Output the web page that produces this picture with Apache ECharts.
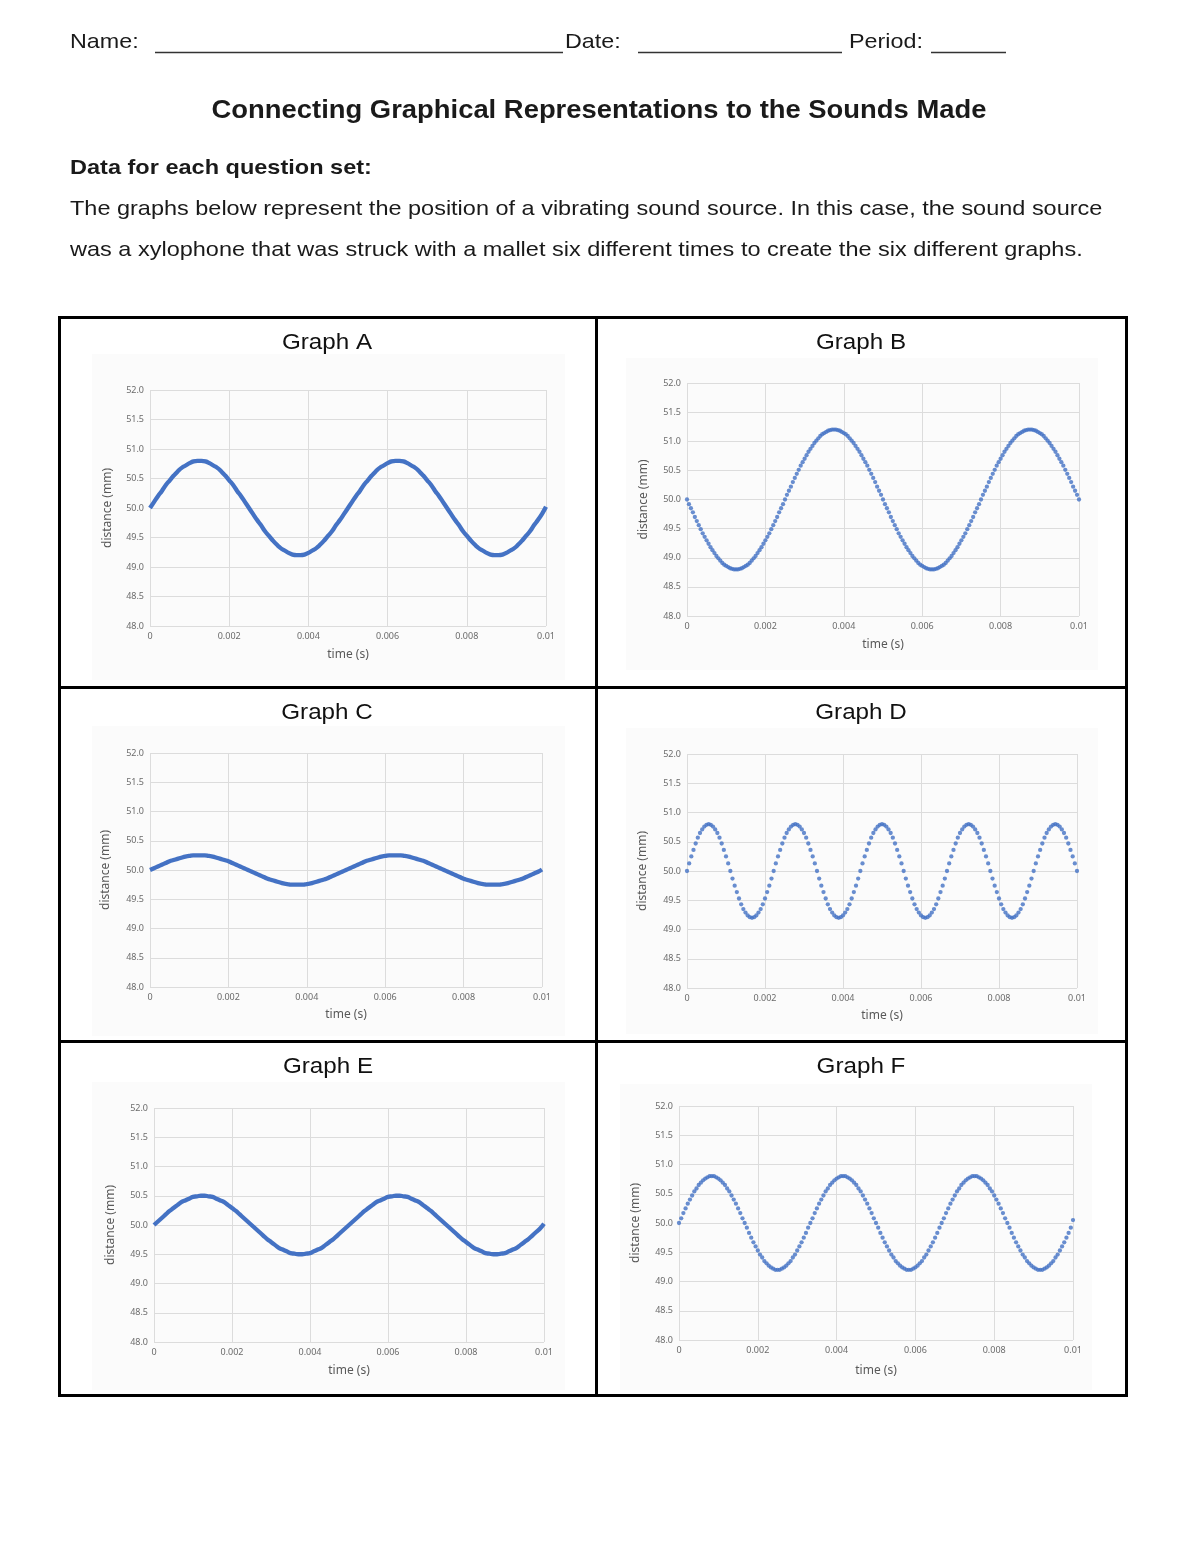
<!DOCTYPE html>
<html><head><meta charset="utf-8">
<script src="https://cdn.jsdelivr.net/npm/echarts@6/dist/echarts.min.js"></script>
<style>html,body{margin:0;padding:0;background:#fff;}#page{width:1200px;height:1553px;}</style>
</head><body><div id="page"></div>
<script>
// ---------- data ----------
const xTickLabels = ['0', '0.002', '0.004', '0.006', '0.008', '0.01'];
const yTickLabels = ['48.0', '48.5', '49.0', '49.5', '50.0', '50.5', '51.0', '51.5', '52.0'];
const graphNames = ['Graph A', 'Graph B', 'Graph C', 'Graph D', 'Graph E', 'Graph F'];

// sampling interval (s) of each recording
const stepA = 0.0001, stepB = 0.00005, stepC = 0.0001, stepD = 1 / 18000, stepE = 0.0001, stepF = 1 / 18000;

// distance (mm) of each recording, one value per sample
const distanceA = [
50.00,50.10,50.20,50.29,50.39,50.47,50.55,50.62,50.68,50.72,50.76,50.79,50.80,50.80,50.79,50.76,50.72,50.68,50.62,50.55,50.47,50.39,50.29,50.20,50.10,
50.00,49.90,49.80,49.71,49.61,49.53,49.45,49.38,49.32,49.28,49.24,49.21,49.20,49.20,49.21,49.24,49.28,49.32,49.38,49.45,49.53,49.61,49.71,49.80,49.90,
50.00,50.10,50.20,50.29,50.39,50.47,50.55,50.62,50.68,50.72,50.76,50.79,50.80,50.80,50.79,50.76,50.72,50.68,50.62,50.55,50.47,50.39,50.29,50.20,50.10,
50.00,49.90,49.80,49.71,49.61,49.53,49.45,49.38,49.32,49.28,49.24,49.21,49.20,49.20,49.21,49.24,49.28,49.32,49.38,49.45,49.53,49.61,49.71,49.80,49.90,
50.02];

const distanceB = [
50.00,49.92,49.85,49.78,49.70,49.63,49.56,49.49,49.42,49.36,49.30,49.24,49.18,49.13,49.08,49.03,48.99,48.95,48.91,48.88,48.86,48.84,48.82,48.81,48.80,48.80,
48.80,48.81,48.82,48.84,48.86,48.88,48.91,48.95,48.99,49.03,49.08,49.13,49.18,49.24,49.30,49.36,49.42,49.49,49.56,49.63,49.70,49.78,49.85,49.92,
50.00,
50.08,50.15,50.22,50.30,50.37,50.44,50.51,50.58,50.64,50.70,50.76,50.82,50.87,50.92,50.97,51.01,51.05,51.09,51.12,51.14,51.16,51.18,51.19,51.20,51.20,
51.20,51.19,51.18,51.16,51.14,51.12,51.09,51.05,51.01,50.97,50.92,50.87,50.82,50.76,50.70,50.64,50.58,50.51,50.44,50.37,50.30,50.22,50.15,50.08,
50.00,49.92,49.85,49.78,49.70,49.63,49.56,49.49,49.42,49.36,49.30,49.24,49.18,49.13,49.08,49.03,48.99,48.95,48.91,48.88,48.86,48.84,48.82,48.81,48.80,48.80,
48.80,48.81,48.82,48.84,48.86,48.88,48.91,48.95,48.99,49.03,49.08,49.13,49.18,49.24,49.30,49.36,49.42,49.49,49.56,49.63,49.70,49.78,49.85,49.92,
50.00,
50.08,50.15,50.22,50.30,50.37,50.44,50.51,50.58,50.64,50.70,50.76,50.82,50.87,50.92,50.97,51.01,51.05,51.09,51.12,51.14,51.16,51.18,51.19,51.20,51.20,
51.20,51.19,51.18,51.16,51.14,51.12,51.09,51.05,51.01,50.97,50.92,50.87,50.82,50.76,50.70,50.64,50.58,50.51,50.44,50.37,50.30,50.22,50.15,50.08,
50.00];

const distanceC = [
50.00,50.03,50.06,50.09,50.12,50.15,50.17,50.19,50.21,50.23,50.24,50.25,50.25,50.25,50.25,50.24,50.23,50.21,50.19,50.17,50.15,50.12,50.09,50.06,50.03,
50.00,49.97,49.94,49.91,49.88,49.85,49.83,49.81,49.79,49.77,49.76,49.75,49.75,49.75,49.75,49.76,49.77,49.79,49.81,49.83,49.85,49.88,49.91,49.94,49.97,
50.00,50.03,50.06,50.09,50.12,50.15,50.17,50.19,50.21,50.23,50.24,50.25,50.25,50.25,50.25,50.24,50.23,50.21,50.19,50.17,50.15,50.12,50.09,50.06,50.03,
50.00,49.97,49.94,49.91,49.88,49.85,49.83,49.81,49.79,49.77,49.76,49.75,49.75,49.75,49.75,49.76,49.77,49.79,49.81,49.83,49.85,49.88,49.91,49.94,49.97,
50.01];

const distanceD = [
50.00,50.13,50.25,50.36,50.47,50.57,50.65,50.71,50.76,50.79,50.80,50.79,50.76,50.71,50.65,50.57,50.47,50.36,50.25,50.13,
50.00,49.87,49.75,49.64,49.53,49.43,49.35,49.29,49.24,49.21,49.20,49.21,49.24,49.29,49.35,49.43,49.53,49.64,49.75,49.87,
50.00,50.13,50.25,50.36,50.47,50.57,50.65,50.71,50.76,50.79,50.80,50.79,50.76,50.71,50.65,50.57,50.47,50.36,50.25,50.13,
50.00,49.87,49.75,49.64,49.53,49.43,49.35,49.29,49.24,49.21,49.20,49.21,49.24,49.29,49.35,49.43,49.53,49.64,49.75,49.87,
50.00,50.13,50.25,50.36,50.47,50.57,50.65,50.71,50.76,50.79,50.80,50.79,50.76,50.71,50.65,50.57,50.47,50.36,50.25,50.13,
50.00,49.87,49.75,49.64,49.53,49.43,49.35,49.29,49.24,49.21,49.20,49.21,49.24,49.29,49.35,49.43,49.53,49.64,49.75,49.87,
50.00,50.13,50.25,50.36,50.47,50.57,50.65,50.71,50.76,50.79,50.80,50.79,50.76,50.71,50.65,50.57,50.47,50.36,50.25,50.13,
50.00,49.87,49.75,49.64,49.53,49.43,49.35,49.29,49.24,49.21,49.20,49.21,49.24,49.29,49.35,49.43,49.53,49.64,49.75,49.87,
50.00,50.13,50.25,50.36,50.47,50.57,50.65,50.71,50.76,50.79,50.80,50.79,50.76,50.71,50.65,50.57,50.47,50.36,50.25,50.13,
50.00];

const distanceE = [
50.00,50.06,50.12,50.18,50.24,50.29,50.34,50.39,50.42,50.45,50.48,50.49,50.50,50.50,50.49,50.48,50.45,50.42,50.39,50.34,50.29,50.24,50.18,50.12,50.06,
50.00,49.94,49.88,49.82,49.76,49.71,49.66,49.61,49.58,49.55,49.52,49.51,49.50,49.50,49.51,49.52,49.55,49.58,49.61,49.66,49.71,49.76,49.82,49.88,49.94,
50.00,50.06,50.12,50.18,50.24,50.29,50.34,50.39,50.42,50.45,50.48,50.49,50.50,50.50,50.49,50.48,50.45,50.42,50.39,50.34,50.29,50.24,50.18,50.12,50.06,
50.00,49.94,49.88,49.82,49.76,49.71,49.66,49.61,49.58,49.55,49.52,49.51,49.50,49.50,49.51,49.52,49.55,49.58,49.61,49.66,49.71,49.76,49.82,49.88,49.94,
50.02];

const distanceF = [
50.00,50.08,50.17,50.25,50.33,50.40,50.47,50.54,50.59,50.65,50.69,50.73,50.76,50.78,50.80,50.80,50.80,50.78,50.76,50.73,50.69,50.65,50.59,50.54,50.47,50.40,50.33,50.25,50.17,50.08,
50.00,49.92,49.83,49.75,49.67,49.60,49.53,49.46,49.41,49.35,49.31,49.27,49.24,49.22,49.20,49.20,49.20,49.22,49.24,49.27,49.31,49.35,49.41,49.46,49.53,49.60,49.67,49.75,49.83,49.92,
50.00,50.08,50.17,50.25,50.33,50.40,50.47,50.54,50.59,50.65,50.69,50.73,50.76,50.78,50.80,50.80,50.80,50.78,50.76,50.73,50.69,50.65,50.59,50.54,50.47,50.40,50.33,50.25,50.17,50.08,
50.00,49.92,49.83,49.75,49.67,49.60,49.53,49.46,49.41,49.35,49.31,49.27,49.24,49.22,49.20,49.20,49.20,49.22,49.24,49.27,49.31,49.35,49.41,49.46,49.53,49.60,49.67,49.75,49.83,49.92,
50.00,50.08,50.17,50.25,50.33,50.40,50.47,50.54,50.59,50.65,50.69,50.73,50.76,50.78,50.80,50.80,50.80,50.78,50.76,50.73,50.69,50.65,50.59,50.54,50.47,50.40,50.33,50.25,50.17,50.08,
50.00,49.92,49.83,49.75,49.67,49.60,49.53,49.46,49.41,49.35,49.31,49.27,49.24,49.22,49.20,49.20,49.20,49.22,49.24,49.27,49.31,49.35,49.41,49.46,49.53,49.60,49.67,49.75,49.83,49.92,
50.05];

// ---------- layout ----------
const BLUE = '#4472C4';
const panels = [
  { data: distanceA, step: stepA, kind: 'line',    grid: { left: 150, top: 390, width: 396, height: 236 }, xGap: 23, yGap: 36, title: [327, 343], bg: [92, 354, 473, 326] },
  { data: distanceB, step: stepB, kind: 'scatter', grid: { left: 687, top: 383, width: 392, height: 233 }, xGap: 23, yGap: 37, title: [861, 343], bg: [626, 358, 472, 312] },
  { data: distanceC, step: stepC, kind: 'line',    grid: { left: 150, top: 753, width: 392, height: 234 }, xGap: 22, yGap: 38, title: [327, 713], bg: [92, 726, 473, 310] },
  { data: distanceD, step: stepD, kind: 'scatter', grid: { left: 687, top: 754, width: 390, height: 234 }, xGap: 22, yGap: 38, title: [861, 713], bg: [626, 728, 472, 306] },
  { data: distanceE, step: stepE, kind: 'line',    grid: { left: 154, top: 1108, width: 390, height: 234 }, xGap: 23, yGap: 37, title: [328, 1067], bg: [92, 1082, 473, 308] },
  { data: distanceF, step: stepF, kind: 'scatter', grid: { left: 679, top: 1106, width: 394, height: 234 }, xGap: 25, yGap: 37, title: [861, 1067], bg: [620, 1084, 472, 306] }
];

const LABEL_FONT = 'Noto Sans';
const grids = [], xAxes = [], yAxes = [], series = [], graphics = [];

panels.forEach((p, i) => {
  grids.push(Object.assign({ containLabel: false }, p.grid));
  xAxes.push({
    type: 'value', gridIndex: i, min: 0, max: 0.01, interval: 0.002,
    name: 'time (s)', nameLocation: 'middle', nameGap: p.xGap,
    nameTextStyle: { color: '#595959', fontSize: 12, fontFamily: LABEL_FONT },
    axisLine: { show: false }, axisTick: { show: false },
    axisLabel: { color: '#6b6b6b', fontSize: 9, fontFamily: LABEL_FONT, margin: 6,
      formatter: v => xTickLabels[Math.round(v / 0.002)] },
    splitLine: { show: true, lineStyle: { color: '#dcdcdc', width: 1 } }
  });
  yAxes.push({
    type: 'value', gridIndex: i, min: 48, max: 52, interval: 0.5,
    name: 'distance (mm)', nameLocation: 'middle', nameGap: p.yGap,
    nameTextStyle: { color: '#595959', fontSize: 12, fontFamily: LABEL_FONT },
    axisLine: { show: false }, axisTick: { show: false },
    axisLabel: { color: '#6b6b6b', fontSize: 9, fontFamily: LABEL_FONT, margin: 6,
      formatter: v => yTickLabels[Math.round((v - 48) / 0.5)] },
    splitLine: { show: true, lineStyle: { color: '#dcdcdc', width: 1 } }
  });
  const pts = p.data.map((v, k) => [k * p.step, v]);
  if (p.kind === 'line') {
    series.push({ type: 'line', xAxisIndex: i, yAxisIndex: i, data: pts, smooth: true,
      showSymbol: false, silent: true, lineStyle: { color: BLUE, width: 4.3 } });
  } else {
    series.push({ type: 'scatter', xAxisIndex: i, yAxisIndex: i, data: pts,
      symbolSize: 4.3, silent: true, itemStyle: { color: BLUE } });
  }
  graphics.push({ type: 'rect', z: -10, shape: { x: p.bg[0], y: p.bg[1], width: p.bg[2], height: p.bg[3] },
    style: { fill: '#fbfbfb' } });
  graphics.push({ type: 'text', x: p.title[0], y: p.title[1], scaleX: 1.1,
    style: { text: graphNames[i], font: '22px "Liberation Sans"', fill: '#111', textAlign: 'center', textVerticalAlign: 'middle' } });
});

// header texts
const HF = '"Liberation Sans"';
function txt(x, y, s, font, align, sx) {
  graphics.push({ type: 'text', x: x, y: y, scaleX: sx || 1,
    style: { text: s, font: font, fill: '#1a1a1a', textAlign: align || 'left', textVerticalAlign: 'middle' } });
}
function hline(x1, x2, y, w, c) {
  graphics.push({ type: 'line', shape: { x1: x1, y1: y, x2: x2, y2: y }, style: { stroke: c || '#000', lineWidth: w } });
}
function vline(x, y1, y2, w) {
  graphics.push({ type: 'line', shape: { x1: x, y1: y1, x2: x, y2: y2 }, style: { stroke: '#000', lineWidth: w } });
}
txt(70, 42, 'Name:', '21px ' + HF, 'left', 1.11);
hline(155, 563, 52.5, 1.3, '#333');
txt(565, 42, 'Date:', '21px ' + HF, 'left', 1.11);
hline(638, 842, 52.5, 1.3, '#333');
txt(849, 42, 'Period:', '21px ' + HF, 'left', 1.11);
hline(931, 1006, 52.5, 1.3, '#333');
txt(599, 111, 'Connecting Graphical Representations to the Sounds Made', 'bold 25px ' + HF, 'center', 1.096);
txt(70, 168, 'Data for each question set:', 'bold 21px ' + HF, 'left', 1.12);
txt(70, 209, 'The graphs below represent the position of a vibrating sound source. In this case, the sound source', '21px ' + HF, 'left', 1.118);
txt(70, 250, 'was a xylophone that was struck with a mallet six different times to create the six different graphs.', '21px ' + HF, 'left', 1.119);

// table borders
graphics.push({ type: 'rect', shape: { x: 59.5, y: 317.5, width: 1067, height: 1078 }, style: { fill: null, stroke: '#000', lineWidth: 3 } });
vline(596.5, 317, 1396, 3);
hline(59, 1127, 687.5, 3);
hline(59, 1127, 1041.5, 3);

const chart = echarts.init(document.getElementById('page'), null, { renderer: 'canvas', width: 1200, height: 1553 });
chart.setOption({
  backgroundColor: '#ffffff',
  animation: false,
  grid: grids, xAxis: xAxes, yAxis: yAxes, series: series,
  graphic: graphics
});
</script>
</body></html>
